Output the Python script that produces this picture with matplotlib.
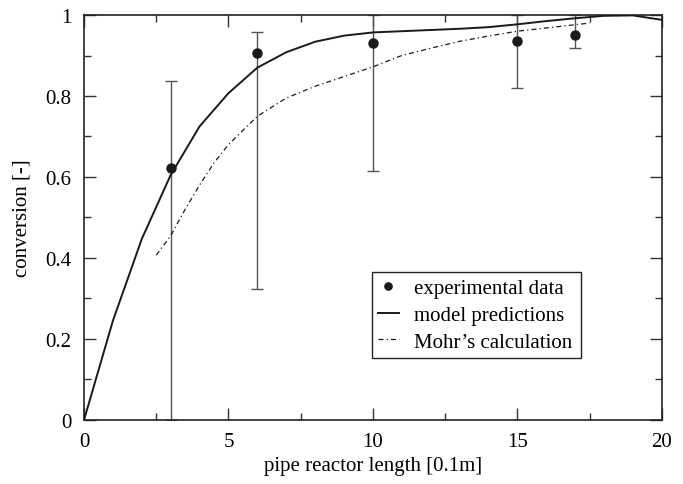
import matplotlib
matplotlib.use("Agg")
import matplotlib.pyplot as plt
from matplotlib.ticker import MultipleLocator, FuncFormatter

plt.rcParams['font.family'] = ['Liberation Serif', 'DejaVu Serif']
plt.rcParams['mathtext.fontset'] = 'stix'

# experimental data
exp_x = [3, 6, 10, 15, 17]
exp_y = [0.621, 0.905, 0.930, 0.937, 0.951]
exp_lo = [0.0, 0.323, 0.616, 0.819, 0.919]
exp_hi = [0.838, 0.958, 1.0, 1.0, 1.0]

# model predictions
model_x = [0, 1, 2, 3, 4, 5, 6, 7, 8, 9, 10, 11, 12, 13, 14, 15, 16, 17, 18, 19, 20]
model_y = [0.0, 0.245, 0.447, 0.605, 0.725, 0.807, 0.870, 0.908, 0.934, 0.949, 0.957,
           0.960, 0.963, 0.966, 0.970, 0.977, 0.985, 0.992, 0.998, 0.999, 0.988]

# Mohr's calculation
mohr_x = [2.5, 3, 3.5, 4, 4.5, 5, 6, 7, 8, 9, 10, 11, 12, 13, 14, 15, 16, 17, 17.5]
mohr_y = [0.407, 0.455, 0.52, 0.58, 0.635, 0.68, 0.75, 0.795, 0.824, 0.848, 0.872,
          0.900, 0.918, 0.935, 0.948, 0.960, 0.968, 0.976, 0.980]

fig = plt.figure(figsize=(6.83, 4.85), dpi=100)
ax = fig.add_axes([0.123, 0.132, 0.846, 0.835])

yerr = [[y - lo for y, lo in zip(exp_y, exp_lo)], [hi - y for y, hi in zip(exp_y, exp_hi)]]
ax.errorbar(exp_x, exp_y, yerr=yerr, fmt='none', ecolor='#555555', elinewidth=1.0,
            capsize=4.3, capthick=1.0, zorder=2)
ax.plot(exp_x, exp_y, 'o', color='#1a1a1a', markersize=6.5, label='experimental data', zorder=4)
ax.plot(model_x, model_y, '-', color='#1a1a1a', linewidth=1.4, label='model predictions', zorder=3)
ax.plot(mohr_x, mohr_y, color='#1a1a1a', linewidth=0.9, dashes=(4, 2.5, 1, 2.5),
        label="Mohr\u2019s calculation", zorder=3)

ax.set_xlim(0, 20)
ax.set_ylim(0, 1)
ax.xaxis.set_major_locator(MultipleLocator(5))
ax.xaxis.set_minor_locator(MultipleLocator(2.5))
ax.yaxis.set_major_locator(MultipleLocator(0.2))
ax.yaxis.set_minor_locator(MultipleLocator(0.1))
ax.yaxis.set_major_formatter(FuncFormatter(lambda v, p: ('%g' % round(v, 2))))
ax.tick_params(which='both', direction='in', top=True, right=True, labelsize=15,
               width=1.0, color='#333333')
ax.tick_params(which='major', length=8.5, pad=9)
ax.tick_params(which='minor', length=5)
for s in ax.spines.values():
    s.set_linewidth(1.2)
    s.set_color('#222222')

ax.set_xlabel('pipe reactor length [0.1m]', fontsize=15, labelpad=3)
ax.set_ylabel('conversion [-]', fontsize=15, labelpad=10)

leg = ax.legend(loc='lower left', bbox_to_anchor=(0.498, 0.153, 0.362, 0.205),
                mode='expand', borderaxespad=0, fancybox=False, framealpha=1,
                edgecolor='#222222', fontsize=15, handlelength=1.0, handletextpad=0.75,
                labelspacing=0.35, borderpad=0.3, markerscale=0.8)
leg.get_frame().set_linewidth(1.0)

fig.savefig('out.png', dpi=100)
